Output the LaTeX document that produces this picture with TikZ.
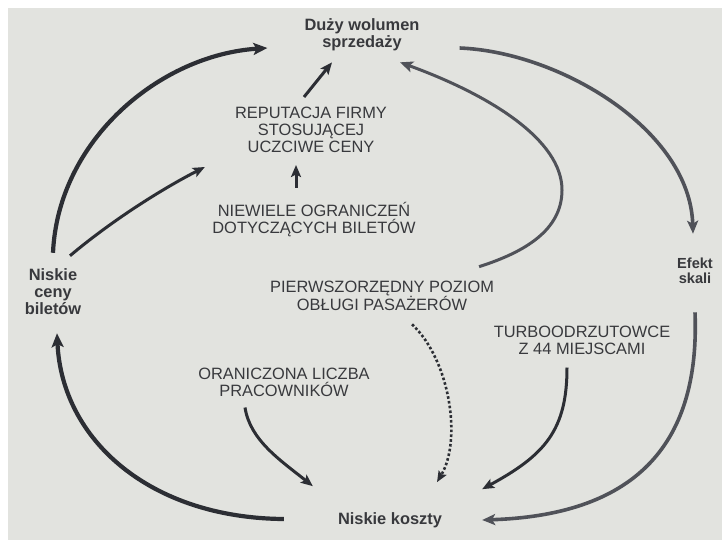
\documentclass[tikz,border=0pt]{standalone}
\usepackage{fontspec}
\setmainfont{Liberation Sans}
\usetikzlibrary{arrows.meta}
\definecolor{tlo}{RGB}{226,227,223}
\definecolor{tusz}{RGB}{44,46,52}
\definecolor{szary}{RGB}{80,82,89}
\definecolor{napis}{RGB}{56,57,61}

\begin{document}
\begin{tikzpicture}[x=1pt, y=1pt,
    haslo/.style={font=\fontsize{16.4}{17}\selectfont\bfseries, text=napis, align=center, inner sep=0pt},
    opis/.style={font=\fontsize{16.4}{17}\selectfont, text=napis, align=center, inner sep=0pt},
    gruba/.style={tusz, line width=4.2pt, -{Stealth[length=14pt, width=12pt, inset=3pt]}},
    cienka/.style={tusz, line width=3pt, -{Stealth[length=12pt, width=10pt, inset=2.5pt]}},
    jasna/.style={szary, line width=3.6pt, -{Stealth[length=13pt, width=11pt, inset=3pt]}},
    kropki/.style={tusz, line width=2.6pt, dash pattern=on 2.6pt off 2.2pt, -{Stealth[length=11pt, width=9pt, inset=2pt]}}]

    % tlo strony
    \useasboundingbox (0,0) rectangle (722,-540);
    \fill[tlo] (8,-8) rectangle (722,-540);

    % 1. hasla na obwodzie kola
    \node[haslo] (wolumen) at (362,-35) {Duży wolumen\\sprzedaży};
    \node[haslo, font=\fontsize{14.6}{15.5}\selectfont\bfseries] (efekt) at (695,-271) {Efekt\\skali};
    \node[haslo] (koszty) at (390,-520) {Niskie koszty};
    \node[haslo] (ceny) at (53,-292) {Niskie\\ceny\\biletów};

    % 2. opisy w srodku
    \node[opis] (reputacja) at (311,-130) {REPUTACJA FIRMY\\STOSUJĄCEJ\\UCZCIWE CENY};
    \node[opis] (niewiele) at (314,-220) {NIEWIELE OGRANICZEŃ\\DOTYCZĄCYCH BILETÓW};
    \node[opis] (poziom) at (382,-296) {PIERWSZORZĘDNY POZIOM\\OBŁUGI PASAŻERÓW};
    \node[opis] (pracownicy) at (284,-382) {ORANICZONA LICZBA\\PRACOWNIKÓW};
    \node[opis] (turbo) at (582,-340) {TURBOODRZUTOWCE\\Z 44 MIEJSCAMI};

    % 3. duze luki kola
    \draw[gruba] ([yshift=16pt]ceny.north) .. controls (58,-140) and (160,-55) .. ([xshift=-37pt,yshift=-13pt]wolumen.west);
    \draw[jasna] ([xshift=40pt,yshift=-13pt]wolumen.east) .. controls (560,-52) and (690,-130) .. ([xshift=-2pt,yshift=24pt]efekt.north);
    \draw[jasna] ([yshift=-28pt]efekt.south) .. controls (700,-440) and (640,-515) .. ([xshift=40pt]koszty.east);
    \draw[gruba] ([xshift=-54pt,yshift=1pt]koszty.west) .. controls (150,-518) and (62,-440) .. ([xshift=4pt,yshift=-18pt]ceny.south);

    % 4. strzalki do gory
    \draw[cienka] ([xshift=17pt,yshift=13pt]ceny.north) .. controls (110,-222) and (160,-190) .. ([xshift=-30pt,yshift=-14pt]reputacja.south west);
    \draw[cienka] ([xshift=-7pt,yshift=10pt]reputacja.north) -- ([xshift=-30pt,yshift=-11pt]wolumen.south);
    \draw[cienka] ([xshift=-18pt,yshift=15pt]niewiele.north) -- ([xshift=-15pt,yshift=-12pt]reputacja.south);
    \draw[jasna, line width=3pt] ([xshift=-15pt,yshift=14pt]poziom.north east) .. controls (525,-252) and (562,-230) .. (562,-190)
        .. controls (562,-140) and (490,-95) .. ([xshift=38pt,yshift=-11pt]wolumen.south);

    % 5. strzalki do niskich kosztow
    \draw[kropki] ([xshift=30pt,yshift=-13pt]poziom.south) .. controls (450,-360) and (462,-440) .. ([xshift=47pt,yshift=30pt]koszty.north);
    \draw[cienka] ([xshift=-39pt,yshift=-11pt]pracownicy.south) .. controls (250,-440) and (280,-460) .. ([xshift=-25pt,yshift=26pt]koszty.north west);
    \draw[cienka] ([xshift=-15pt,yshift=-13pt]turbo.south) .. controls (567,-430) and (545,-455) .. ([xshift=40pt,yshift=23pt]koszty.north east);
  \end{tikzpicture}
\end{document}
